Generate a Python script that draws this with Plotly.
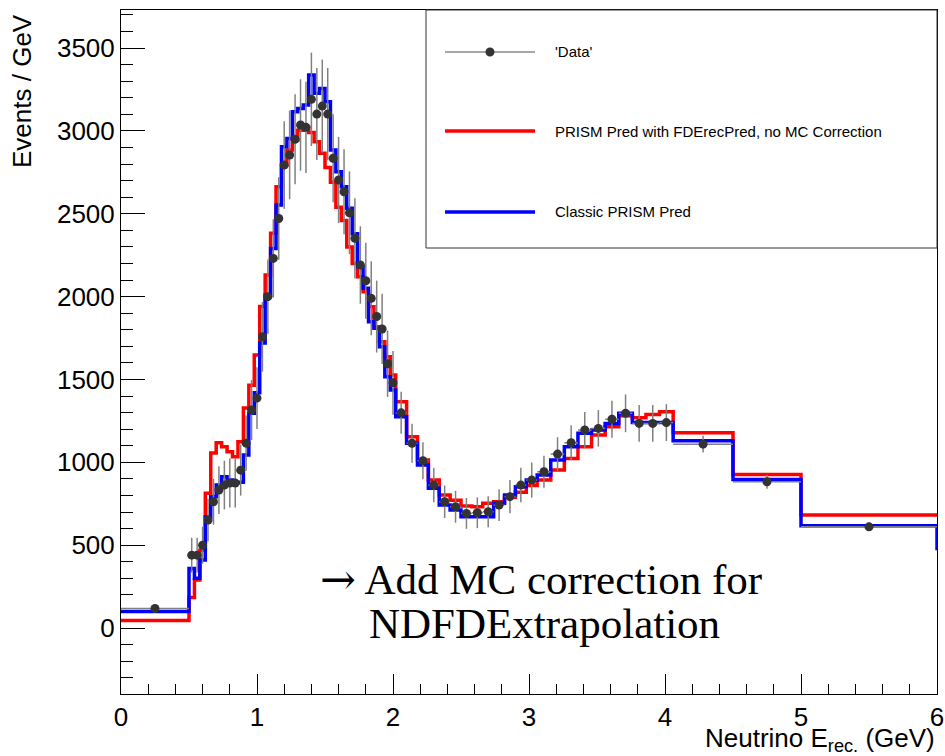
import plotly.graph_objects as go

# ============================
# DATA
# ============================

# bin edges in GeV: one wide bin, fine 0.04 bins, 0.08 bins, 0.1 bins, then wide bins
bin_edges = [
    0.0, 0.5,
    0.54, 0.58, 0.62, 0.66, 0.70, 0.74, 0.78, 0.82, 0.86, 0.90,
    0.94, 0.98, 1.02, 1.06, 1.10, 1.14, 1.18, 1.22, 1.26, 1.30,
    1.34, 1.38, 1.42, 1.46, 1.50, 1.54, 1.58, 1.62, 1.66, 1.70,
    1.74, 1.78, 1.82, 1.86, 1.90, 1.94, 1.98, 2.02,
    2.10, 2.18, 2.26, 2.34, 2.42, 2.50, 2.58, 2.66, 2.74, 2.82, 2.90, 2.98, 3.06,
    3.16, 3.26, 3.36, 3.46, 3.56, 3.66, 3.76, 3.86, 3.96, 4.06,
    4.5, 5.0, 6.0,
]

data_vals = [
    118,
    440, 440, 500, 652, 762, 833, 863, 875, 875, 953,
    1116, 1316, 1388, 1758, 2000, 2231, 2472, 2794, 2855, 2950,
    3036, 3022, 3191, 3102, 3150, 3102, 2835, 2704, 2633, 2506,
    2352, 2191, 2096, 1990, 1880, 1805, 1595, 1480,
    1299, 1115, 1010, 863, 762, 732, 692, 696, 702, 742, 793, 863, 893,
    943, 1050, 1118, 1195, 1205, 1260, 1296, 1235, 1235, 1240,
    1110, 883, 611,
]

data_err = [
    15,
    105, 105, 112, 128, 138, 144, 147, 148, 148, 154,
    167, 181, 186, 210, 224, 236, 249, 264, 267, 272,
    276, 275, 282, 278, 281, 278, 266, 260, 257, 250,
    242, 234, 229, 223, 217, 212, 200, 192,
    127, 118, 112, 104, 98, 96, 93, 93, 94, 96, 100, 104, 106,
    97, 102, 106, 109, 110, 112, 114, 111, 111, 111,
    50, 42, 25,
]

red_vals = [
    45,
    185, 290, 470, 814, 1056, 1118, 1094, 1064, 1034, 1124,
    1328, 1466, 1648, 1940, 2130, 2382, 2663, 2794, 2885, 2945,
    3005, 3022, 2990, 2935, 2865, 2780, 2690, 2540, 2460, 2300,
    2200, 2120, 2030, 1939, 1819, 1728, 1637, 1527,
    1366, 1155, 1014, 893, 803, 772, 736, 732, 753, 762, 790, 820, 860,
    893, 954, 1024, 1094, 1165, 1215, 1281, 1269, 1289, 1305,
    1179, 927, 682,
]

blue_vals = [
    100,
    360, 300, 410, 672, 793, 863, 913, 893, 875, 880,
    1044, 1297, 1420, 1720, 2010, 2291, 2553, 2905, 2955, 3116,
    3136, 3156, 3337, 3227, 3257, 3176, 2885, 2754, 2663, 2533,
    2380, 2181, 2050, 1849, 1809, 1698, 1517, 1436,
    1275, 1115, 984, 843, 742, 712, 672, 672, 672, 753, 803, 853, 893,
    923, 1014, 1094, 1175, 1195, 1235, 1296, 1241, 1241, 1241,
    1130, 897, 617,
]
blue_overflow = 470

legend_labels = [
    "'Data'",
    "PRISM Pred with FDErecPred, no MC Correction",
    "Classic PRISM Pred",
]

# ============================
# HELPERS
# ============================

centers = [(a + b) / 2 for a, b in zip(bin_edges[:-1], bin_edges[1:])]
half_w = [(b - a) / 2 for a, b in zip(bin_edges[:-1], bin_edges[1:])]

PL, PR, PT, PB = 121, 937, 10, 694   # plot area in pixels


def px_x(px):
    return (px - PL) / (PR - PL)


def px_y(py):
    return (PB - py) / (PB - PT)


SANS = "Liberation Sans, Arial, sans-serif"
SERIF = "Liberation Serif, Times New Roman, serif"

# ============================
# FIGURE
# ============================

fig = go.Figure()

fig.add_trace(go.Scatter(
    x=bin_edges,
    y=red_vals + [red_vals[-1]],
    mode="lines",
    line=dict(color="#ff0000", width=3.5, shape="hv"),
    showlegend=False,
))

fig.add_trace(go.Scatter(
    x=bin_edges,
    y=blue_vals + [blue_overflow],
    mode="lines",
    line=dict(color="#0000ff", width=3.5, shape="hv"),
    showlegend=False,
))

fig.add_trace(go.Scatter(
    x=centers,
    y=data_vals,
    mode="markers",
    marker=dict(color="#333333", size=9),
    error_y=dict(type="data", array=data_err, color="#808080", thickness=1.5, width=0),
    error_x=dict(type="data", array=half_w, color="#808080", thickness=1.5, width=0),
    showlegend=False,
))

# ----- legend box drawn by hand (ROOT style) -----
shapes = [
    dict(type="rect", xref="paper", yref="paper",
         x0=px_x(426), x1=px_x(937), y0=px_y(248), y1=px_y(10),
         line=dict(color="#333333", width=1), fillcolor="white", layer="above"),
]
legend_rows = [52, 131, 212]
legend_styles = [("#888888", 1.5), ("#ff0000", 3.5), ("#0000ff", 3.5)]
for row, (col, w) in zip(legend_rows, legend_styles):
    shapes.append(dict(type="line", xref="paper", yref="paper",
                       x0=px_x(445), x1=px_x(535), y0=px_y(row), y1=px_y(row),
                       line=dict(color=col, width=w), layer="above"))
r = 4.5
shapes.append(dict(type="circle", xref="paper", yref="paper",
                   x0=px_x(490 - r), x1=px_x(490 + r),
                   y0=px_y(legend_rows[0] + r), y1=px_y(legend_rows[0] - r),
                   fillcolor="#333333", line=dict(color="#333333", width=0), layer="above"))

annotations = []
for row, label in zip(legend_rows, legend_labels):
    annotations.append(dict(
        text=label, xref="paper", yref="paper",
        x=px_x(553), y=px_y(row), xanchor="left", yanchor="middle",
        showarrow=False, font=dict(family=SANS, size=15, color="black"),
    ))

# axis titles (ROOT puts them at the axis ends)
annotations.append(dict(
    text="Events / GeV", xref="paper", yref="paper",
    x=px_x(22), y=px_y(91), xanchor="center", yanchor="middle",
    textangle=-90, showarrow=False, font=dict(family=SANS, size=26, color="black"),
))
annotations.append(dict(
    text="Neutrino E<sub>rec.</sub> (GeV)", xref="paper", yref="paper",
    x=1.0, y=px_y(739), xanchor="right", yanchor="middle",
    showarrow=False, font=dict(family=SANS, size=26, color="black"),
))

# slide note
annotations.append(dict(
    text="<span style='font-family:DejaVu Serif'>→</span> Add MC correction for",
    xref="paper", yref="paper",
    x=px_x(541), y=px_y(579), xanchor="center", yanchor="middle",
    showarrow=False, font=dict(family=SERIF, size=43, color="black"),
))
annotations.append(dict(
    text="NDFDExtrapolation", xref="paper", yref="paper",
    x=px_x(544), y=px_y(623), xanchor="center", yanchor="middle",
    showarrow=False, font=dict(family=SERIF, size=43, color="black"),
))

fig.update_layout(
    width=945,
    height=756,
    margin=dict(l=PL, r=945 - PR, t=PT, b=756 - PB),
    paper_bgcolor="white",
    plot_bgcolor="white",
    font=dict(family=SANS, size=26, color="black"),
    shapes=shapes,
    annotations=annotations,
    showlegend=False,
)

fig.update_xaxes(
    range=[0, 6],
    tick0=0, dtick=1,
    ticks="inside", ticklen=20, tickwidth=1, tickcolor="black",
    minor=dict(dtick=0.2, ticks="inside", ticklen=10, tickwidth=1, tickcolor="black"),
    showline=True, linecolor="black", linewidth=1, mirror=True,
    showgrid=False, zeroline=False, automargin=False,
    tickfont=dict(family=SANS, size=26, color="black"),
)

fig.update_yaxes(
    range=[-398, 3730],
    tick0=0, dtick=500,
    ticks="inside", ticklen=24, tickwidth=1, tickcolor="black",
    minor=dict(dtick=100, ticks="inside", ticklen=12, tickwidth=1, tickcolor="black"),
    showline=True, linecolor="black", linewidth=1, mirror=True,
    showgrid=False, zeroline=False, automargin=False,
    tickfont=dict(family=SANS, size=26, color="black"),
)

# page body has a default 8px margin; drop it so the figure sits at the window corner
fig.write_html(
    "out.html",
    config={"displayModeBar": False, "responsive": False},
    post_script="document.body.style.margin='0px'; document.body.style.overflow='hidden';",
)
